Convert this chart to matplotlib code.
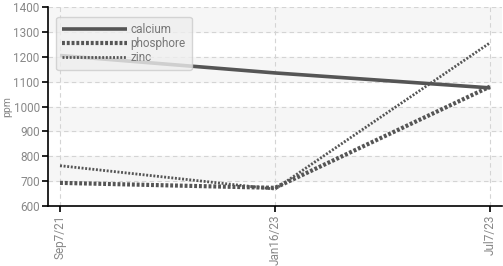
import matplotlib
matplotlib.use("Agg")
import matplotlib.pyplot as plt

dates = ["Sep7/21", "Jan16/23", "Jul7/23"]
calcium = [1205, 1135, 1075]
phosphore = [693, 673, 1080]
zinc = [762, 668, 1256]

plt.rcParams['font.family'] = ['Roboto', 'DejaVu Sans']

fig = plt.figure(figsize=(5.03, 2.66), dpi=100)
ax = fig.add_axes([0.0954, 0.2256, 0.9026, 0.748])
x = list(range(len(dates)))
col = "#555555"
ax.plot(x, calcium, color=col, lw=2.6, label="calcium", solid_capstyle="butt")
ax.plot(x, phosphore, color=col, lw=3, ls=(0, (0.7, 0.45)), label="phosphore")
ax.plot(x, zinc, color=col, lw=2, ls=(0, (0.7, 0.6)), label="zinc")

ax.set_xlim(-0.056, 2.056)
ax.set_ylim(600, 1400)
ax.set_yticks(range(600, 1401, 100))
ax.set_xticks(x)
ax.set_xticklabels(dates, rotation=90)
for y0 in [700, 900, 1100, 1300]:
    ax.axhspan(y0, y0 + 100, color="#f6f6f6", zorder=0)
ax.grid(True, color="#d4d4d4", ls=(0, (4, 3)), lw=0.8)
ax.set_axisbelow(True)
for s in ["top", "right"]:
    ax.spines[s].set_visible(False)
ax.spines["left"].set_linewidth(1.2)
ax.spines["bottom"].set_linewidth(1.2)
ax.tick_params(colors="black", labelcolor="#888888", labelsize=8.5, length=4, width=1.2, pad=2)
ax.set_ylabel("ppm", color="#888888", fontsize=7.5, labelpad=1)
leg = ax.legend(loc="upper left", bbox_to_anchor=(0.005, 0.98), handlelength=5.5, fontsize=8.5,
                frameon=True, fancybox=True, shadow=False, labelspacing=0.1,
                handletextpad=0.3, borderpad=0.5)
leg.get_frame().set_facecolor("#eeeeee")
leg.get_frame().set_alpha(0.8)
leg.get_frame().set_edgecolor("#cccccc")
for t in leg.get_texts():
    t.set_color("#777777")
fig.savefig("out.png", dpi=100)
